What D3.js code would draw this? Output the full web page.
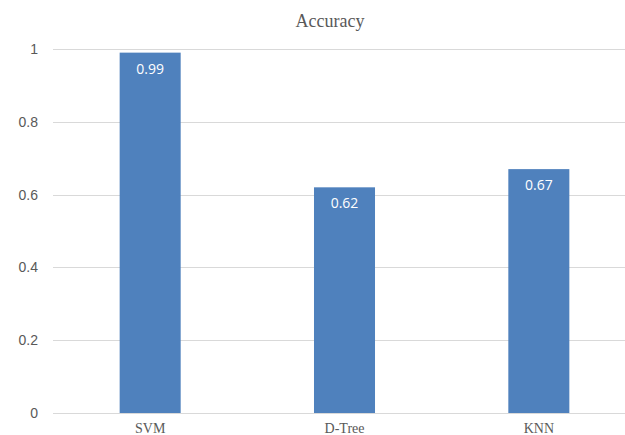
<!DOCTYPE html>
<html>
<head>
<meta charset="utf-8">
<script src="https://cdn.jsdelivr.net/npm/d3@7"></script>
<style>
  body { margin: 0; background: #fff; }
</style>
</head>
<body>
<script>
// chart data
var categories = ["SVM", "D-Tree", "KNN"];
var accuracy = [0.99, 0.62, 0.67];
var yTicks = [0, 0.2, 0.4, 0.6, 0.8, 1];

var W = 625, H = 435;
var margin = {top: 49, right: -11, bottom: 22, left: 53},
    width = W - margin.left - margin.right,
    height = H - margin.top - margin.bottom;

var svg = d3.select("body").append("svg")
    .attr("width", W)
    .attr("height", H);

svg.append("text")
    .attr("x", 330)
    .attr("y", 27)
    .attr("text-anchor", "middle")
    .style("font-family", "'Liberation Serif', 'Times New Roman', serif")
    .style("font-size", "18px")
    .style("fill", "#595959")
    .text("Accuracy");

var g = svg.append("g")
    .attr("transform", "translate(" + margin.left + "," + margin.top + ")");

var x = d3.scaleBand().domain(categories).range([0, width])
    .paddingInner(0.686).paddingOuter(0.343);
var y = d3.scaleLinear().domain([0, 1]).range([height, 0]);

// gridlines
g.selectAll(".grid")
    .data(yTicks)
  .enter().append("line")
    .attr("class", "grid")
    .attr("x1", 0)
    .attr("x2", width)
    .attr("y1", function(d) { return Math.round(y(d)) + 0.5; })
    .attr("y2", function(d) { return Math.round(y(d)) + 0.5; })
    .style("stroke", "#d9d9d9")
    .style("stroke-width", 1);

// y axis labels
var yAxis = d3.axisLeft(y).tickValues(yTicks).tickSize(0).tickPadding(15)
    .tickFormat(function(d) { return d3.format("")(d); });
g.append("g")
    .call(yAxis)
    .call(function(s) { s.select(".domain").remove(); })
    .selectAll("text")
    .style("font-family", "'Liberation Sans', Arial, sans-serif")
    .style("font-size", "14px")
    .style("fill", "#595959");

// x axis labels
var xAxis = d3.axisBottom(x).tickSize(0).tickPadding(10);
g.append("g")
    .attr("transform", "translate(0," + height + ")")
    .call(xAxis)
    .call(function(s) { s.select(".domain").remove(); })
    .selectAll("text")
    .style("font-family", "'Liberation Serif', 'Times New Roman', serif")
    .style("font-size", "14px")
    .style("fill", "#595959");

// bars
g.selectAll(".bar")
    .data(accuracy)
  .enter().append("rect")
    .attr("class", "bar")
    .attr("x", function(d, i) { return x(categories[i]); })
    .attr("width", x.bandwidth())
    .attr("y", function(d) { return y(d); })
    .attr("height", function(d) { return height - y(d); })
    .style("fill", "#4f81bd");

// value labels
g.selectAll(".val")
    .data(accuracy)
  .enter().append("text")
    .attr("class", "val")
    .attr("x", function(d, i) { return x(categories[i]) + x.bandwidth() / 2; })
    .attr("y", function(d) { return y(d) + 21; })
    .attr("text-anchor", "middle")
    .style("font-family", "'Open Sans', 'Liberation Sans', sans-serif")
    .style("font-size", "14px")
    .style("fill", "#fff")
    .text(function(d) { return d; });
</script>
</body>
</html>
